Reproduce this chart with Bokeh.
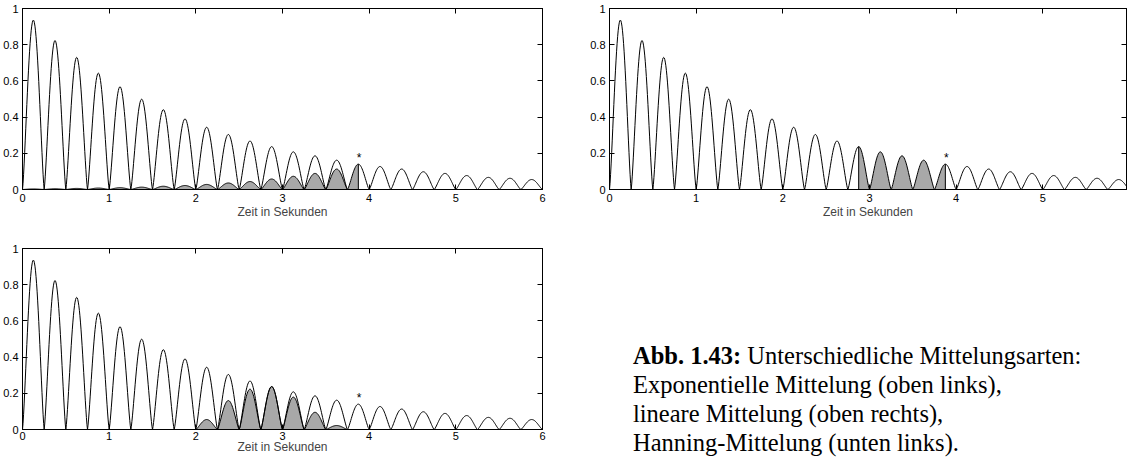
import numpy as np
from bokeh.plotting import figure
from bokeh.models import FixedTicker, LinearAxis, Range1d, Div, Spacer
from bokeh.layouts import row, column
from bokeh.embed import file_html
from bokeh.resources import INLINE
from bokeh.core.properties import value

# ---------------- data ----------------
period = 0.25  # seconds between zeros of the rectified signal
peaks = [0.936, 0.823, 0.730, 0.643, 0.568, 0.499, 0.441, 0.390, 0.344, 0.304,
         0.268, 0.237, 0.208, 0.186, 0.162, 0.140, 0.127, 0.113, 0.098, 0.089,
         0.077, 0.067, 0.062, 0.055]
# exponential averaging: weighted humps before the current time
exp_gray = [0.003, 0.004, 0.006, 0.008, 0.010, 0.013, 0.018, 0.022, 0.028, 0.036,
            0.044, 0.058, 0.073, 0.089, 0.113]
# Hanning averaging: weighted humps, first index 8
hann_first = 8
hann_gray = [0.055, 0.160, 0.223, 0.237, 0.179, 0.095, 0.022]
# linear averaging window
lin_start, lin_end = 2.875, 3.875
marker_t, marker_y = 3.885, 0.2
x_ticks = [0, 1, 2, 3, 4, 5, 6]
x_labels = ["0", "1", "2", "3", "4", "5", "6"]
y_ticks = [0, 0.2, 0.4, 0.6, 0.8, 1]
y_labels = ["0", "0.2", "0.4", "0.6", "0.8", "1"]
x_title = "Zeit in Sekunden"
caption = ("<b>Abb. 1.43:</b> Unterschiedliche Mittelungsarten:<br>"
           "Exponentielle Mittelung (oben links),<br>"
           "lineare Mittelung (oben rechts),<br>"
           "Hanning-Mittelung (unten links).")

GRAY = "#a8a8a8"
FONT = "Liberation Sans"

# hump profile (shape of one rectified half-wave)
u = np.linspace(0.0, 1.0, 41)
shape = np.sin(np.pi * u) ** 1.3


def humps(indices, heights, u_lo=0.0, u_hi=1.0):
    xs, ys = [], []
    for k, h in zip(indices, heights):
        m = (u >= u_lo - 1e-9) & (u <= u_hi + 1e-9)
        xs.append(period * (k + u[m]))
        ys.append(h * shape[m])
    return np.concatenate(xs), np.concatenate(ys)


def segment_humps(t0, t1):
    """curve under the signal between t0 and t1 (hump boundaries / peaks)"""
    k0, k1 = int(t0 / period), int(t1 / period)
    xs, ys = [], []
    for k in range(k0, k1 + 1):
        lo = max(0.0, t0 / period - k)
        hi = min(1.0, t1 / period - k)
        if hi <= lo:
            continue
        x, y = humps([k], [peaks[k]], lo, hi)
        xs.append(x)
        ys.append(y)
    return np.concatenate(xs), np.concatenate(ys)


def make_fig(width, height, x_end, left, right, top, bottom, lab_standoff, title_standoff):
    p = figure(width=width, height=height, x_range=Range1d(0, x_end), y_range=Range1d(0, 1),
               output_backend="svg", toolbar_location=None,
               min_border_left=left, min_border_right=right,
               min_border_top=top, min_border_bottom=bottom)
    p.grid.visible = False
    p.outline_line_color = "black"
    p.outline_line_width = 1
    p.background_fill_color = "white"
    p.border_fill_color = "white"

    xa = p.xaxis[0]
    xa.ticker = FixedTicker(ticks=x_ticks)
    xa.major_label_overrides = {t: l for t, l in zip(x_ticks, x_labels)}
    xa.axis_label = x_title
    xa.axis_label_text_font = FONT
    xa.axis_label_text_font_size = "12px"
    xa.axis_label_text_font_style = "normal"
    xa.axis_label_standoff = title_standoff
    xa.major_label_standoff = lab_standoff
    ya = p.yaxis[0]
    ya.ticker = FixedTicker(ticks=y_ticks)
    ya.major_label_overrides = {t: l for t, l in zip(y_ticks, y_labels)}
    ya.major_label_standoff = 4
    for ax in (xa, ya):
        ax.major_label_text_font = FONT
        ax.major_label_text_font_size = "11px"
        ax.major_label_text_color = "black"
        ax.major_tick_in = 5
        ax.major_tick_out = 0
        ax.minor_tick_line_color = None
        ax.axis_line_color = "black"
        ax.major_tick_line_color = "black"

    # tick marks on the top and right edges (box), without labels
    for loc, tk in (("above", x_ticks), ("right", y_ticks)):
        ax = LinearAxis(ticker=FixedTicker(ticks=tk), major_label_text_font_size="0px",
                        major_label_text_color=None,
                        major_label_standoff=0, major_tick_in=5, major_tick_out=0,
                        minor_tick_line_color=None, axis_line_color="black",
                        major_tick_line_color="black")
        p.add_layout(ax, loc)
    return p


def add_signal(p):
    x, y = humps(range(len(peaks)), peaks)
    p.line(x, y, line_color="black", line_width=1)


def add_star(p):
    p.text(x=[marker_t], y=[marker_y], text=["*"], text_align="center",
           text_baseline="middle", y_offset=5, text_font=value(FONT),
           text_font_size="12px", text_color="black")


# ---------------- top left: exponential ----------------
p1 = make_fig(562, 221, 6, 22, 20, 8, 31, 4, 0)
gx, gy = humps(range(len(exp_gray)), exp_gray)
cx, cy = segment_humps(lin_end - period / 2, lin_end)
p1.varea(x=gx, y1=0, y2=gy, fill_color=GRAY)
p1.varea(x=cx, y1=0, y2=cy, fill_color=GRAY)
p1.line(gx, gy, line_color="black", line_width=1)
k_m = int(lin_end / period)
p1.segment(x0=[lin_end], y0=[0], x1=[lin_end], y1=[peaks[k_m]], line_color="black", line_width=1)
add_signal(p1)
add_star(p1)

# ---------------- top right: linear ----------------
p2 = make_fig(565, 221, 517 / 86.67, 47, 1, 8, 31, 4, 0)
lx, ly = segment_humps(lin_start, lin_end)
p2.varea(x=lx, y1=0, y2=ly, fill_color=GRAY)
k_s, k_e = int(lin_start / period), int(lin_end / period)
p2.segment(x0=[lin_start, lin_end], y0=[0, 0], x1=[lin_start, lin_end],
           y1=[peaks[k_s], peaks[k_e]], line_color="black", line_width=1)
add_signal(p2)
add_star(p2)

# ---------------- bottom left: Hanning ----------------
p3 = make_fig(562, 235, 6, 22, 20, 27, 26, 2, -3)
hx, hy = humps(range(hann_first, hann_first + len(hann_gray)), hann_gray)
p3.varea(x=hx, y1=0, y2=hy, fill_color=GRAY)
p3.line(hx, hy, line_color="black", line_width=1)
add_signal(p3)
add_star(p3)

cap = Div(text=('<div style="font-family:\'Liberation Serif\',\'Times New Roman\',serif;'
                'font-size:24.5px;line-height:29px;white-space:nowrap;color:black;'
                'padding-top:115px;">' + caption + '</div>'),
          width=490, height=235)

layout = column(row(p1, p2), row(p3, Spacer(width=66), cap))
open("out.html", "w").write(file_html(layout, INLINE))
